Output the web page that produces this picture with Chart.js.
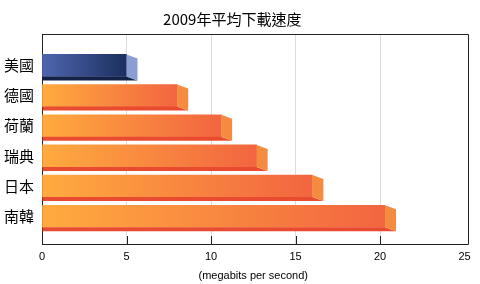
<!DOCTYPE html>
<html>
<head>
<meta charset="utf-8">
<script src="https://cdn.jsdelivr.net/npm/chart.js@4"></script>
<style>
  html, body { margin: 0; padding: 0; background: #fff; }
</style>
</head>
<body>
<canvas id="speedChart" width="480" height="284"></canvas>
<script>
const countries = ["美國", "德國", "荷蘭", "瑞典", "日本", "南韓"];
const speeds = [5.0, 8.0, 10.6, 12.7, 16.0, 20.3];
const xTicks = [0, 5, 10, 15, 20, 25];

// colours: blue for the US, orange for the rest
const frontFrom = ["#4f66b0", "#ffab3f", "#ffab3f", "#ffab3f", "#ffab3f", "#ffab3f"];
const frontTo = ["#1c2f5f", "#f26540", "#f26540", "#f26540", "#f26540", "#f26540"];
const sideColor = ["#8b9dd3", "#f58b3e", "#f58b3e", "#f58b3e", "#f58b3e", "#f58b3e"];
const bottomColor = ["#14224a", "#e94b30", "#e94b30", "#e94b30", "#e94b30", "#e94b30"];
const DX = 11, DY = 4;

function barFill(c) {
    const chart = c.chart;
    const x = chart.scales.x;
    const i = c.dataIndex;
    if (!chart.chartArea || !x || i === undefined) return frontTo[0];
    const x0 = x.getPixelForValue(0);
    const x1 = x.getPixelForValue(speeds[i]);
    const g = chart.ctx.createLinearGradient(x0, 0, x1, 0);
    g.addColorStop(0, frontFrom[i]);
    g.addColorStop(1, frontTo[i]);
    return g;
}

const bar3d = {
    id: "bar3d",
    afterDatasetsDraw(chart) {
        const ctx = chart.ctx;
        ctx.save();
        chart.getDatasetMeta(0).data.forEach((bar, i) => {
            const p = bar.getProps(["x", "y", "base", "height"], true);
            const top = p.y - p.height / 2, bot = p.y + p.height / 2;
            // bottom face
            ctx.fillStyle = bottomColor[i];
            ctx.beginPath();
            ctx.moveTo(p.base, bot);
            ctx.lineTo(p.x, bot);
            ctx.lineTo(p.x + DX, bot + DY);
            ctx.lineTo(p.base, bot + DY);
            ctx.closePath();
            ctx.fill();
            // right face
            ctx.fillStyle = sideColor[i];
            ctx.beginPath();
            ctx.moveTo(p.x, top);
            ctx.lineTo(p.x + DX, top + DY);
            ctx.lineTo(p.x + DX, bot + DY);
            ctx.lineTo(p.x, bot);
            ctx.closePath();
            ctx.fill();
        });
        ctx.restore();
    },
    afterDraw(chart) {
        const {ctx, chartArea: a, scales: {x}} = chart;
        ctx.save();
        ctx.strokeStyle = "#222";
        ctx.lineWidth = 1;
        ctx.beginPath();
        // top and right of the frame
        ctx.moveTo(Math.round(a.left) + 0.5, Math.round(a.top) + 0.5);
        ctx.lineTo(Math.round(a.right) + 3.5, Math.round(a.top) + 0.5);
        ctx.lineTo(Math.round(a.right) + 3.5, Math.round(a.bottom) + 0.5);
        ctx.lineTo(Math.round(a.right), Math.round(a.bottom) + 0.5);
        // inward tick marks
        xTicks.slice(1, -1).forEach(v => {
            const px = Math.round(x.getPixelForValue(v)) + 0.5;
            ctx.moveTo(px, a.bottom - 8);
            ctx.lineTo(px, a.bottom);
        });
        ctx.stroke();
        ctx.restore();
    }
};

new Chart(document.getElementById("speedChart"), {
    type: "bar",
    data: {
        datasets: [{
            data: speeds.map((v, i) => ({ x: v, y: i })),
            backgroundColor: barFill,
            borderWidth: 0,
            barThickness: 22
        }]
    },
    options: {
        indexAxis: "y",
        responsive: false,
        animation: false,
        layout: { padding: { right: 15.5 } },
        plugins: {
            legend: { display: false },
            tooltip: { enabled: false },
            title: {
                display: true,
                text: "2009年平均下載速度",
                color: "#000",
                font: { family: "'Noto Sans CJK TC'", size: 15, weight: "normal" },
                padding: { top: 10, bottom: 6 }
            }
        },
        scales: {
            x: {
                type: "linear",
                min: 0,
                max: 25,
                afterBuildTicks: s => { s.ticks = xTicks.map(v => ({ value: v })); },
                ticks: {
                    color: "#000",
                    padding: 6,
                    font: { family: "'Liberation Sans', Arial", size: 11 }
                },
                grid: {
                    drawTicks: false,
                    color: c => (c.tick && c.tick.value > 0 && c.tick.value < 25) ? "#dcdcdc" : "rgba(0,0,0,0)"
                },
                border: { color: "#222" },
                title: {
                    display: true,
                    text: "(megabits per second)",
                    color: "#000",
                    font: { family: "'Liberation Sans', Arial", size: 11 },
                    padding: { top: 0, bottom: 1 }
                },
                afterFit: s => { s.height = 40; }
            },
            y: {
                type: "linear",
                reverse: true,
                offset: false,
                min: -1.04,
                max: 5.92,
                afterBuildTicks: s => { s.ticks = countries.map((c, i) => ({ value: i })); },
                ticks: {
                    color: "#000",
                    padding: 8,
                    autoSkip: false,
                    callback: v => countries[v],
                    font: { family: "'Noto Sans CJK TC'", size: 15 }
                },
                grid: { display: false, drawTicks: false, offset: false },
                border: { color: "#222" },
                afterFit: s => { s.width = 42; }
            }
        }
    },
    plugins: [bar3d]
});
</script>
</body>
</html>
